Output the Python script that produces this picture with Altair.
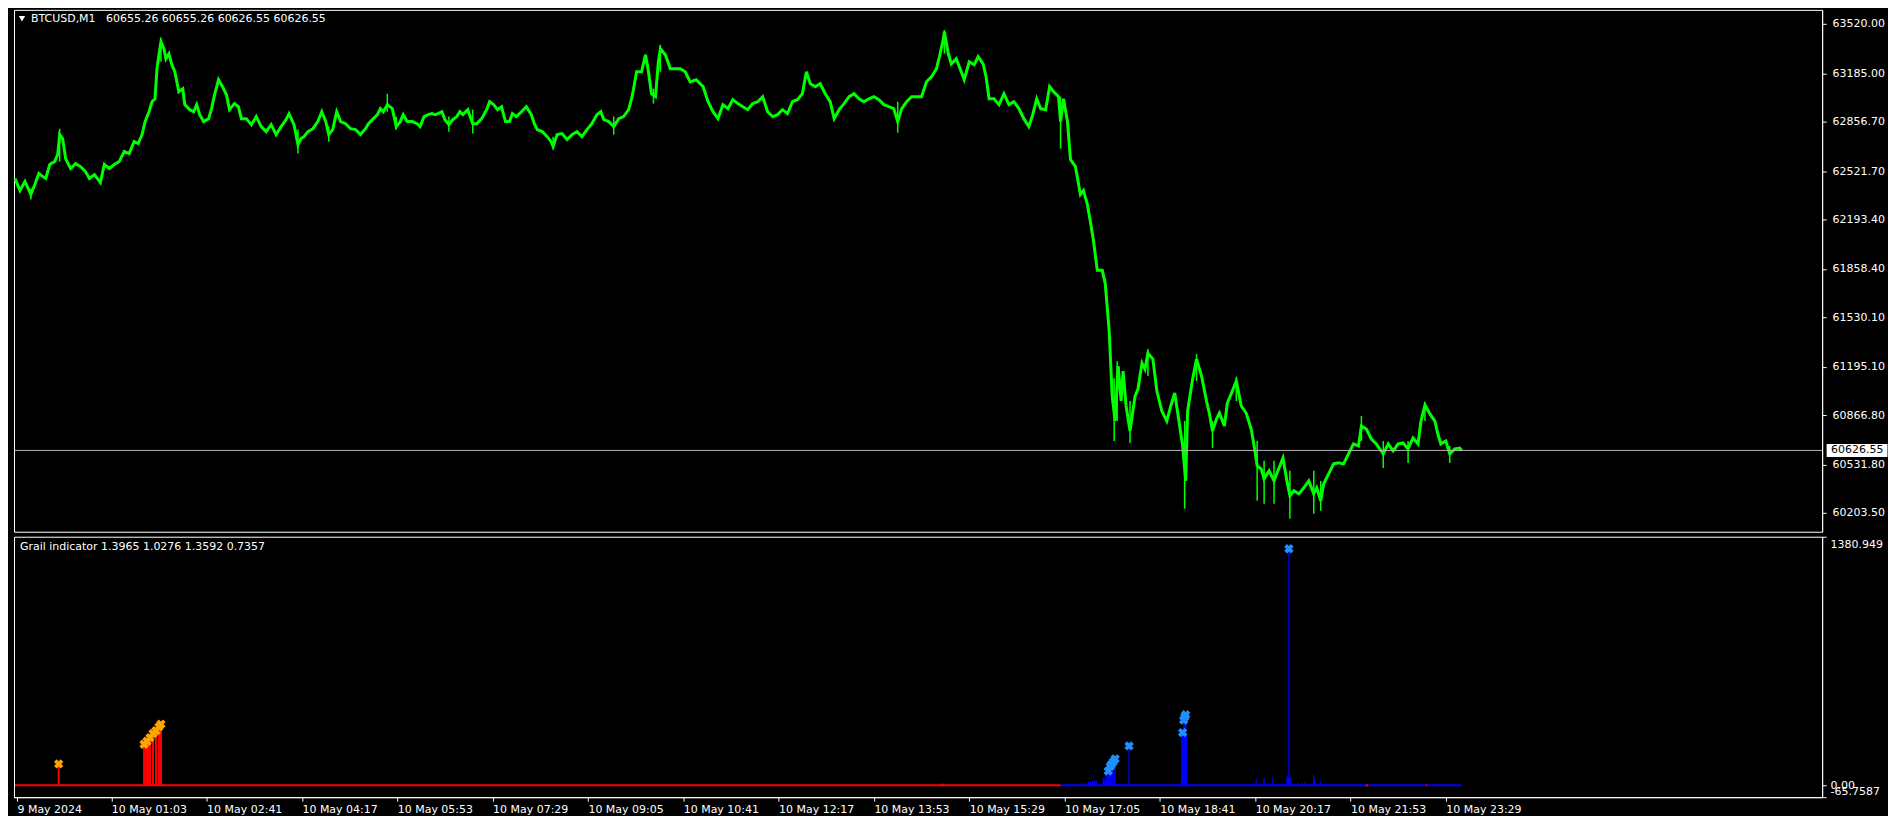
import altair as alt
import pandas as pd

# ---------------- data ----------------
title_text = ["BTCUSD,M1\u00a0\u00a0 60655.26 60655.26 60626.55 60626.55"]
ind_title_text = ["Grail indicator 1.3965 1.0276 1.3592 0.7357"]

# x axis (bar index) tick positions and labels
x_ticks = [2, 97, 193, 289, 385, 481, 577, 673, 769, 865, 961, 1057, 1153, 1249, 1345, 1441]
x_labels = ["9 May 2024", "10 May 01:03", "10 May 02:41", "10 May 04:17", "10 May 05:53",
            "10 May 07:29", "10 May 09:05", "10 May 10:41", "10 May 12:17", "10 May 13:53",
            "10 May 15:29", "10 May 17:05", "10 May 18:41", "10 May 20:17", "10 May 21:53",
            "10 May 23:29"]

# price axis labels
price_ticks = [63520.00, 63185.00, 62856.70, 62521.70, 62193.40, 61858.40,
               61530.10, 61195.10, 60866.80, 60531.80, 60203.50]
price_min, price_max = 60075, 63615
current_price = [60626.55]

# indicator axis labels
ind_ticks = [1380.949, 0.0, -65.7587]
ind_labels = ["1380.949", "0.00", "-65.7587"]
ind_min, ind_max = -65.7587, 1380.949

# BTCUSD M1 closes: (bar index, price)
price_series = [
    (0, 62470), (5, 62390), (10, 62451), (16, 62363), (20, 62430), (24, 62505), (28, 62484), (31, 62471),
    (35, 62566), (40, 62586), (43, 62633), (45, 62769), (48, 62742), (51, 62606), (56, 62539), (61, 62572),
    (66, 62552), (71, 62518), (75, 62471), (80, 62498), (86, 62444), (90, 62566), (95, 62539), (100, 62566),
    (105, 62586), (110, 62654), (115, 62640), (120, 62721), (124, 62708), (128, 62769), (131, 62857), (135, 62924),
    (138, 62992), (141, 63012), (143, 63215), (145, 63310), (147, 63398), (150, 63351), (152, 63283), (155, 63317),
    (158, 63243), (161, 63195), (165, 63060), (169, 63080), (171, 62972), (176, 62938), (180, 62924), (183, 62972),
    (186, 62904), (190, 62857), (195, 62877), (198, 62945), (201, 63039), (205, 63141), (209, 63094), (213, 63039),
    (216, 62938), (221, 62979), (225, 62958), (228, 62877), (233, 62877), (238, 62836), (243, 62891), (248, 62823),
    (253, 62789), (258, 62836), (263, 62769), (268, 62823), (273, 62870), (276, 62911), (281, 62836), (285, 62701),
    (288, 62742), (291, 62755), (295, 62789), (300, 62809), (305, 62857), (309, 62924), (313, 62857), (316, 62769),
    (320, 62803), (324, 62924), (328, 62857), (333, 62843), (338, 62809), (343, 62803), (348, 62769), (353, 62809),
    (356, 62843), (361, 62877), (365, 62904), (368, 62945), (371, 62924), (375, 62972), (380, 62945), (384, 62823),
    (388, 62857), (391, 62904), (395, 62857), (400, 62857), (405, 62843), (408, 62823), (412, 62891), (416, 62904),
    (420, 62911), (423, 62904), (426, 62911), (430, 62924), (433, 62870), (437, 62836), (441, 62870), (445, 62891),
    (448, 62924), (451, 62904), (456, 62938), (461, 62843), (465, 62843), (470, 62877), (475, 62938), (478, 62992),
    (482, 62972), (486, 62938), (490, 62958), (494, 62857), (498, 62857), (501, 62911), (505, 62891), (510, 62924),
    (515, 62958), (520, 62904), (523, 62843), (526, 62803), (531, 62789), (536, 62755), (540, 62721), (542, 62688),
    (546, 62769), (551, 62776), (556, 62735), (561, 62769), (566, 62789), (571, 62755), (576, 62803), (581, 62843),
    (586, 62904), (590, 62924), (593, 62870), (598, 62857), (603, 62823), (608, 62877), (613, 62891), (618, 62938),
    (621, 63012), (623, 63080), (626, 63195), (631, 63195), (635, 63310), (638, 63195), (641, 63046), (645, 63026),
    (648, 63263), (650, 63351), (655, 63310), (660, 63215), (665, 63215), (670, 63215), (675, 63195), (680, 63127),
    (686, 63141), (693, 63094), (698, 62992), (703, 62924), (708, 62877), (713, 62972), (718, 62945), (723, 63006),
    (728, 62979), (733, 62958), (738, 62938), (743, 62979), (748, 62992), (753, 63026), (758, 62924), (763, 62891),
    (768, 62904), (773, 62938), (778, 62911), (783, 62992), (788, 63006), (793, 63046), (797, 63195), (801, 63114),
    (806, 63094), (811, 63114), (816, 63046), (821, 62992), (825, 62877), (830, 62938), (835, 62979), (840, 63026),
    (845, 63046), (850, 63012), (855, 62992), (860, 63012), (865, 63026), (870, 63006), (875, 62972), (880, 62958),
    (885, 62945), (889, 62857), (893, 62945), (898, 62992), (903, 63026), (908, 63026), (913, 63026), (918, 63127),
    (923, 63161), (928, 63215), (931, 63297), (935, 63418), (936, 63466), (940, 63317), (943, 63249), (948, 63283),
    (953, 63195), (956, 63141), (961, 63263), (966, 63243), (970, 63297), (975, 63249), (978, 63161), (981, 63012),
    (986, 63012), (991, 62972), (996, 63046), (1001, 62972), (1006, 62992), (1011, 62945), (1016, 62877), (1021, 62823),
    (1025, 62904), (1029, 63012), (1033, 62945), (1038, 62938), (1042, 63094), (1046, 63060), (1051, 63026), (1053, 62857),
    (1056, 63012), (1060, 62857), (1063, 62600), (1068, 62552), (1073, 62363), (1076, 62390), (1080, 62295), (1083, 62180),
    (1086, 62058), (1090, 61848), (1095, 61848), (1098, 61760), (1102, 61435), (1105, 60995), (1108, 60826), (1111, 61199),
    (1114, 60962), (1116, 61165), (1119, 60928), (1123, 60759), (1128, 60995), (1131, 61043), (1135, 61219), (1138, 61178),
    (1141, 61287), (1146, 61246), (1150, 61029), (1155, 60894), (1160, 60826), (1164, 60928), (1168, 61016), (1173, 60792),
    (1176, 60657), (1179, 60420), (1181, 60894), (1186, 61111), (1190, 61246), (1195, 61131), (1200, 60962), (1203, 60874),
    (1206, 60759), (1210, 60840), (1213, 60880), (1218, 60792), (1221, 60948), (1226, 61029), (1230, 61097), (1235, 60928),
    (1240, 60880), (1245, 60772), (1248, 60657), (1251, 60522), (1255, 60501), (1258, 60434), (1263, 60488), (1268, 60420),
    (1273, 60508), (1277, 60576), (1281, 60420), (1284, 60319), (1288, 60353), (1293, 60332), (1298, 60373), (1303, 60420),
    (1308, 60332), (1311, 60373), (1315, 60285), (1318, 60400), (1323, 60468), (1328, 60535), (1333, 60542), (1338, 60535),
    (1343, 60603), (1348, 60671), (1353, 60657), (1356, 60792), (1361, 60772), (1366, 60704), (1371, 60671), (1378, 60603),
    (1383, 60671), (1388, 60623), (1393, 60671), (1398, 60677), (1403, 60637), (1408, 60711), (1413, 60671), (1416, 60826),
    (1420, 60935), (1425, 60874), (1430, 60826), (1433, 60738), (1436, 60671), (1441, 60691), (1445, 60603), (1450, 60637),
    (1455, 60643), (1457, 60626.55),
]

# high/low wicks
spike_bar = [16, 45, 147, 285, 316, 375, 384, 437, 461, 542, 603, 643, 650, 889, 936, 1053,
             1107, 1110, 1123, 1141, 1178, 1190, 1206, 1230, 1251, 1258, 1268, 1284, 1308, 1315,
             1356, 1378, 1403, 1420, 1445]
spike_hi = [62404, 62809, 63425, 62803, 62823, 63046, 62891, 62891, 62938, 62755, 62891, 63080, 63378, 62992, 63479, 63026,
            61117, 61232, 60962, 61314, 60826, 61280, 60826, 61124, 60691, 60556, 60556, 60488, 60488, 60420,
            60860, 60691, 60691, 60955, 60657]
spike_lo = [62329, 62586, 63263, 62640, 62721, 62924, 62803, 62789, 62776, 62667, 62769, 62979, 63195, 62782, 63317, 62674,
            60691, 60826, 60677, 61131, 60231, 61097, 60644, 60962, 60285, 60265, 60265, 60163, 60197, 60217,
            60691, 60508, 60542, 60826, 60542]

# Grail indicator histogram
red_bar = [44, 130, 132, 134, 136, 139, 142, 145, 147, 650, 933, 934]
red_val = [119, 225, 238, 250, 265, 288, 303, 325, 340, 4, 9, 9]
red_mark_bar = [44, 130, 133, 136, 139, 142, 145, 147]
red_mark_val = [119, 228, 245, 265, 288, 303, 325, 340]

blue_bar = [1058, 1063, 1066, 1070, 1074, 1078, 1081, 1083, 1085, 1087, 1089, 1096, 1097,
            1099, 1100, 1101, 1102, 1103, 1104, 1105, 1106, 1107, 1108, 1112, 1120, 1122, 1123,
            1174, 1175, 1176, 1177, 1178, 1179, 1180, 1245, 1250, 1255, 1258, 1261, 1263, 1267,
            1270, 1281, 1282, 1283, 1284, 1285, 1292, 1296, 1299, 1308, 1309, 1313, 1315]
blue_val = [4, 6, 5, 10, 12, 14, 20, 22, 26, 28, 25, 42, 42,
            70, 78, 80, 76, 105, 115, 78, 130, 74, 147, 8, 10, 219, 10,
            15, 280, 293, 363, 380, 392, 280, 8, 38, 10, 42, 12, 10, 48,
            8, 48, 48, 1314, 48, 45, 14, 12, 14, 57, 30, 10, 20]
blue_mark_bar = [1101, 1103, 1104, 1106, 1108, 1122, 1176, 1177, 1178, 1179, 1283]
blue_mark_val = [80, 105, 115, 130, 147, 219, 293, 363, 380, 392, 1314]

# zero-line segments
red_seg_start = [0, 1360, 1421]
red_seg_end = [1053, 1363, 1422]
blue_seg_start = [1053, 1363, 1422]
blue_seg_end = [1360, 1421, 1457]

assert len(spike_bar) == len(spike_hi) == len(spike_lo)
assert len(blue_bar) == len(blue_val)
assert len(red_bar) == len(red_val)

# ---------------- chart ----------------
W, H_TOP, H_IND = 1812, 523, 261
FONT = "DejaVu Sans"
WHITE = "#ffffff"


def js_lookup(values, labels):
    vals = ",".join(str(v) for v in values)
    labs = ",".join("'" + s + "'" for s in labels)
    return f"[{labs}][indexof([{vals}], datum.value)]"


x_scale = alt.Scale(domain=[-1, 1820], nice=False, zero=False)
top_scale = alt.Scale(domain=[price_min, price_max], nice=False, zero=False)
ind_scale = alt.Scale(domain=[ind_min, ind_max], nice=False, zero=False)

common_axis = dict(title=None, grid=False, tickSize=4, labelOverlap=False, labelFlush=False,
                   domainColor=WHITE, tickColor=WHITE, labelColor=WHITE,
                   labelFont=FONT, labelFontSize=11, domainWidth=1, tickWidth=1)

x_axis = alt.Axis(orient="bottom", values=x_ticks, labelExpr=js_lookup(x_ticks, x_labels),
                  labelAlign="left", labelBaseline="top", labelPadding=2, **common_axis)
price_axis = alt.Axis(orient="right", values=price_ticks, format=".2f", labelPadding=6, **common_axis)
ind_axis = alt.Axis(orient="right", values=ind_ticks, labelExpr=js_lookup(ind_ticks, ind_labels),
                    labelPadding=4,
                    labelOffset={"condition": [{"test": "datum.value > 1000", "value": 8},
                                               {"test": "datum.value < -1", "value": -6}],
                                 "value": 0},
                    **common_axis)

price_df = pd.DataFrame(price_series, columns=["bar", "price"])
spike_df = pd.DataFrame({"bar": spike_bar, "hi": spike_hi, "lo": spike_lo})
cur_df = pd.DataFrame({"price": current_price})
title_df = pd.DataFrame({"t": title_text})
ind_title_df = pd.DataFrame({"t": ind_title_text})


def XT(field):
    return alt.X(field, type="quantitative", scale=x_scale, axis=None)


def YT(field):
    return alt.Y(field, type="quantitative", scale=top_scale, axis=price_axis)


GREEN = "#00ff00"
spikes = alt.Chart(spike_df).mark_rule(color=GREEN, strokeWidth=1.5).encode(
    x=XT("bar"), y=YT("hi"), y2=alt.Y2("lo"))
line = alt.Chart(price_df).mark_line(color=GREEN, strokeWidth=3, strokeJoin="miter").encode(
    x=XT("bar"), y=YT("price"))
cur_rule = alt.Chart(cur_df).mark_rule(color="#b4b4b4", strokeWidth=1).encode(y=YT("price"))
cur_box = alt.Chart(cur_df).mark_point(
    shape="M-1,-0.215L1,-0.215L1,0.215L-1,0.215Z", filled=True, color=WHITE, opacity=1,
    size=61 * 61, strokeWidth=0).encode(x=alt.value(W + 35), y=YT("price"))
cur_text = alt.Chart(cur_df).mark_text(
    align="left", baseline="middle", color="#000000", font=FONT, fontSize=11).encode(
    x=alt.value(W + 9), y=YT("price"), text=alt.Text("price:Q", format=".2f"))
tri = alt.Chart(title_df).mark_point(shape="triangle-down", filled=True, color=WHITE,
                                     opacity=1, size=40).encode(
    x=alt.value(8), y=alt.value(9))
ttl = alt.Chart(title_df).mark_text(align="left", baseline="middle", color=WHITE,
                                   font=FONT, fontSize=11).encode(
    x=alt.value(17), y=alt.value(9), text="t:N")

top = alt.layer(line, spikes, cur_rule, cur_box, cur_text, tri, ttl).properties(width=W, height=H_TOP)


def XI(field):
    return alt.X(field, type="quantitative", scale=x_scale, axis=x_axis)


def YI(field):
    return alt.Y(field, type="quantitative", scale=ind_scale, axis=ind_axis)


red_seg_df = pd.DataFrame({"start": red_seg_start, "end": red_seg_end, "level": [0.0] * len(red_seg_start)})
blue_seg_df = pd.DataFrame({"start": blue_seg_start, "end": blue_seg_end, "level": [0.0] * len(blue_seg_start)})
red_df = pd.DataFrame({"bar": red_bar, "val": red_val, "zero": [0.0] * len(red_bar)})
blue_df = pd.DataFrame({"bar": blue_bar, "val": blue_val, "zero": [0.0] * len(blue_bar)})
red_mark_df = pd.DataFrame({"bar": red_mark_bar, "val": red_mark_val})
blue_mark_df = pd.DataFrame({"bar": blue_mark_bar, "val": blue_mark_val})

blue_base = alt.Chart(blue_seg_df).mark_rule(color="#0000ff", strokeWidth=2).encode(
    x=XI("start"), x2=alt.X2("end"), y=YI("level"))
red_base = alt.Chart(red_seg_df).mark_rule(color="#ff0000", strokeWidth=2).encode(
    x=XI("start"), x2=alt.X2("end"), y=YI("level"))
blue_bars = alt.Chart(blue_df).mark_rule(color="#0000ff", strokeWidth=1.3).encode(
    x=XI("bar"), y=YI("val"), y2=alt.Y2("zero"))
red_bars = alt.Chart(red_df).mark_rule(color="#ff0000", strokeWidth=2).encode(
    x=XI("bar"), y=YI("val"), y2=alt.Y2("zero"))
blue_marks = alt.Chart(blue_mark_df).mark_point(shape="cross", angle=45, filled=True, opacity=1,
                                                color="#1e90ff", size=90).encode(
    x=XI("bar"), y=YI("val"))
red_marks = alt.Chart(red_mark_df).mark_point(shape="cross", angle=45, filled=True, opacity=1,
                                              color="#ffa500", size=90).encode(
    x=XI("bar"), y=YI("val"))
ind_ttl = alt.Chart(ind_title_df).mark_text(align="left", baseline="middle", color=WHITE,
                                           font=FONT, fontSize=11).encode(
    x=alt.value(6), y=alt.value(10), text="t:N")

ind = alt.layer(blue_base, red_base, blue_bars, red_bars, blue_marks, red_marks, ind_ttl).properties(
    width=W, height=H_IND)

chart = alt.vconcat(top, ind, spacing=3).properties(
    padding={"left": 0, "top": 0, "right": 0, "bottom": 0}
).configure(background="#000000", font=FONT).configure_view(
    stroke=WHITE, strokeWidth=1, fill="#000000")

chart.save("out.html", embed_options={"renderer": "svg", "actions": False})
